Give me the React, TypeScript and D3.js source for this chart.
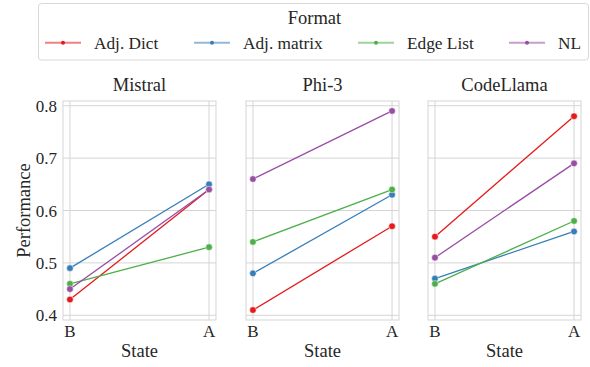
import React from "react";
import * as d3 from "d3";

const models = ["Mistral", "Phi-3", "CodeLlama"];
const states = ["B", "A"];
const formats = ["Adj. Dict", "Adj. matrix", "Edge List", "NL"];
const colors = ["#e41a1c", "#377eb8", "#4daf4a", "#984ea3"];
// values[model][format] = [B, A]
const mistralVals = [[0.43, 0.64], [0.49, 0.65], [0.46, 0.53], [0.45, 0.64]];
const phi3Vals = [[0.41, 0.57], [0.48, 0.63], [0.54, 0.64], [0.66, 0.79]];
const codellamaVals = [[0.55, 0.78], [0.47, 0.56], [0.46, 0.58], [0.51, 0.69]];
const yTicks = [0.4, 0.5, 0.6, 0.7, 0.8];

const allVals = [mistralVals, phi3Vals, codellamaVals];

const W = 590, H = 367;
const panelLefts = [63, 246, 428];
const panelW = 153;
const top = 101, bottom = 320;
const gridColor = "#d5d5d5";
const txt = "#262626";

export default function App() {
  const y = d3.scaleLinear().domain([0.391, 0.809]).range([bottom, top]);
  const legendItems = [45, 194, 358, 509];
  return (
    <svg width={W} height={H} style={{ position: "absolute", left: 0, top: 0 }}>
      <rect width={W} height={H} fill="white" />
      {models.map((m, mi) => {
        const x0 = panelLefts[mi];
        const xs = d3.scaleLinear().domain([-0.05, 1.05]).range([x0, x0 + panelW]);
        const line = d3.line<[string, number]>().x(d => xs(states.indexOf(d[0]))).y(d => y(d[1]));
        return (
          <g key={m}>
            {yTicks.map(t => (
              <line key={t} x1={x0} x2={x0 + panelW} y1={y(t)} y2={y(t)} stroke={gridColor} strokeWidth={1} />
            ))}
            {states.map((s, si) => (
              <line key={s} x1={xs(si)} x2={xs(si)} y1={top} y2={bottom} stroke={gridColor} strokeWidth={1} />
            ))}
            <rect x={x0} y={top} width={panelW} height={bottom - top} fill="none" stroke={gridColor} strokeWidth={1} />
            <text x={x0 + panelW / 2} y={91} textAnchor="middle" fontSize={18.5} fill={txt}>{m}</text>
            {states.map((s, si) => (
              <text key={s} x={xs(si)} y={337} textAnchor="middle" fontSize={17} fill={txt}>{s}</text>
            ))}
            <text x={x0 + panelW / 2} y={357} textAnchor="middle" fontSize={18.5} fill={txt}>State</text>
            {mi === 0 && yTicks.map(t => (
              <text key={t} x={x0 - 6} y={y(t) + 6} textAnchor="end" fontSize={17} fill={txt}>{t.toFixed(1)}</text>
            ))}
            {formats.map((f, fi) => {
              const pts: [string, number][] = states.map((s, si) => [s, allVals[mi][fi][si]]);
              return (
                <g key={f}>
                  <path d={line(pts) || ""} fill="none" stroke={colors[fi]} strokeWidth={1.3} />
                  {pts.map((p, pi) => (
                    <circle key={pi} cx={xs(pi)} cy={y(p[1])} r={3.3} fill={colors[fi]} stroke="white" strokeWidth={0.5} />
                  ))}
                </g>
              );
            })}
          </g>
        );
      })}
      <text transform={`translate(30,${(top + bottom) / 2}) rotate(-90)`} textAnchor="middle" fontSize={18.5} fill={txt}>Performance</text>
      <rect x={38.5} y={3.5} width={550} height={56.5} rx={3} fill="white" stroke="#d8d8d8" strokeWidth={1} />
      <text x={314.5} y={23.5} textAnchor="middle" fontSize={18.5} fill={txt}>Format</text>
      {formats.map((f, fi) => (
        <g key={f}>
          <line x1={legendItems[fi]} x2={legendItems[fi] + 36} y1={42.7} y2={42.7} stroke={colors[fi]} strokeWidth={2} strokeOpacity={0.55} />
          <circle cx={legendItems[fi] + 18} cy={42.7} r={2} fill={colors[fi]} />
          <text x={legendItems[fi] + 49} y={49} fontSize={17.3} fill={txt}>{f}</text>
        </g>
      ))}
    </svg>
  );
}
